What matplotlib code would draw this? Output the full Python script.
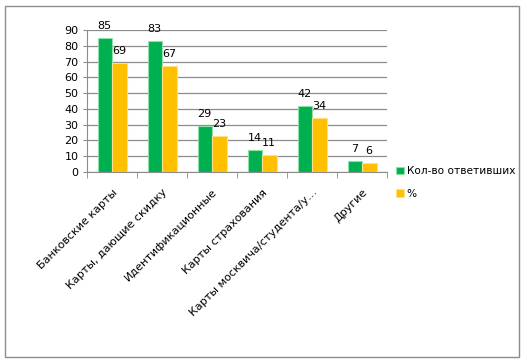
import matplotlib.pyplot as plt
import numpy as np
from matplotlib.patches import Rectangle
from matplotlib.transforms import ScaledTranslation

categories = ["Банковские карты", "Карты, дающие скидку", "Идентификационные",
              "Карты страхования", "Карты москвича/студента/у…", "Другие"]
respondents = [85, 83, 29, 14, 42, 7]
percent = [69, 67, 23, 11, 34, 6]
series_names = ["Кол-во ответивших", "%"]

plt.rcParams['font.family'] = ['DejaVu Sans']
W, H = 527, 363
fig = plt.figure(figsize=(W / 100, H / 100), dpi=100)
ax = fig.add_axes([87 / W, 1 - 172 / H, 300 / W, 142 / H])

# outer frame
fig.patches.append(Rectangle((5 / W, 6 / H), 514 / W, 351 / H, transform=fig.transFigure,
                             fill=False, edgecolor='#8c8c8c', linewidth=1))

x = np.arange(len(categories))
w = 0.29
green = '#00B050'
yellow = '#FFC000'
b1 = ax.bar(x - w / 2, respondents, w, color=green, edgecolor='#8fe0a8', linewidth=0.8,
            label=series_names[0], zorder=3)
b2 = ax.bar(x + w / 2, percent, w, color=yellow, edgecolor='#ffe08a', linewidth=0.8,
            label=series_names[1], zorder=3)
ax.bar_label(b1, padding=5, fontsize=8)
ax.bar_label(b2, padding=5, fontsize=8)

ax.set_xlim(-0.5, len(categories) - 0.5)
ax.set_ylim(0, 90)
ax.set_yticks(range(0, 91, 10))
ax.yaxis.grid(True, color='#8c8c8c', linewidth=0.9, zorder=0)
ax.tick_params(axis='y', labelsize=8, length=3, color='#8c8c8c', pad=3)

ax.set_xticks(x)
ax.set_xticklabels(categories, rotation=45, ha='right', rotation_mode='anchor', fontsize=8)
shift = ScaledTranslation(-5 / 100, 0, fig.dpi_scale_trans)
for lbl in ax.get_xticklabels():
    lbl.set_transform(lbl.get_transform() + shift)
ax.set_xticks(np.arange(-0.5, len(categories)), minor=True)
ax.tick_params(axis='x', which='major', length=0, pad=11)
ax.tick_params(axis='x', which='minor', length=4, color='#8c8c8c')

for s in ['top', 'right']:
    ax.spines[s].set_visible(False)
for s in ['left', 'bottom']:
    ax.spines[s].set_color('#8c8c8c')

ax.legend(loc='upper left', bbox_to_anchor=(392 / W, 1 - 162 / H), bbox_transform=fig.transFigure,
          frameon=False, fontsize=7.6, handlelength=0.75, handleheight=0.75, handletextpad=0.25,
          labelspacing=1.2, borderaxespad=0)

fig.savefig('out.png', dpi=100)
